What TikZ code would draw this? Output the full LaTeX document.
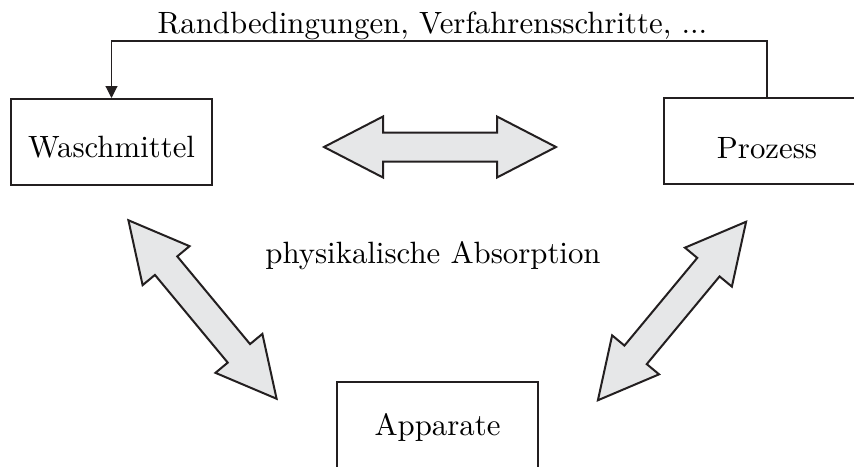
\documentclass[tikz,border=0pt]{standalone}
\usepackage{graphicx}
\usetikzlibrary{arrows.meta}
\definecolor{arrowfill}{RGB}{230,231,232}
\definecolor{ink}{RGB}{35,31,32}
% text set at 10pt design size and enlarged
\newcommand{\scaledtext}[1]{\scalebox{3.08}{\fontsize{10}{12}\selectfont #1}}
\tikzset{
  box/.style={draw=ink, line width=2pt, fill=white, inner sep=0pt,
    minimum width=201pt, minimum height=86pt, text depth=0pt},
  label/.style={inner sep=0pt},
  conn/.style={draw=ink, line width=1.1pt, -{Triangle[length=12pt,width=12pt]}},
  blockarrowstyle/.style={draw=ink, fill=arrowfill, line width=2pt, line join=miter},
  blockarrow/.pic={
    \path[blockarrowstyle]
      (-116,0) -- (-57,30.5) -- (-57,14.5) -- (57,14.5) -- (57,30.5)
      -- (116,0) -- (57,-30.5) -- (57,-14.5) -- (-57,-14.5) -- (-57,-30.5) -- cycle;
  }
}
\begin{document}
\begin{tikzpicture}[x=1pt,y=-1pt]
  \clip (0,0) rectangle (854,466);
  \fill[white] (0,0) rectangle (854,466);

  % the three parts of the system
  \node[box, text height=30pt] (wasch) at (111.5,142) {\scaledtext{Waschmittel}};
  \node[box, minimum width=206pt, text height=34pt] (prozess) at (767,141) {\scaledtext{Prozess}};
  \node[box, text height=20pt] (apparate) at (437.5,425) {\scaledtext{Apparate}};

  % labels
  \node[label, anchor=base] (rand) at (432.5,33) {\scaledtext{Randbedingungen, Verfahrensschritte, ...}};
  \node[label, anchor=base] (absorption) at (433,263) {\scaledtext{physikalische Absorption}};

  % mutual interactions
  \pic[rotate=0] at (440,147) {blockarrow};
  \pic[rotate=-50.3] at (202.5,309.5) {blockarrow};
  \pic[rotate=50.3] at (672,311) {blockarrow};

  % feedback from the process to the solvent
  \draw[conn] (prozess.north) -- ++(0,-56) -| (wasch.north);
\end{tikzpicture}
\end{document}
